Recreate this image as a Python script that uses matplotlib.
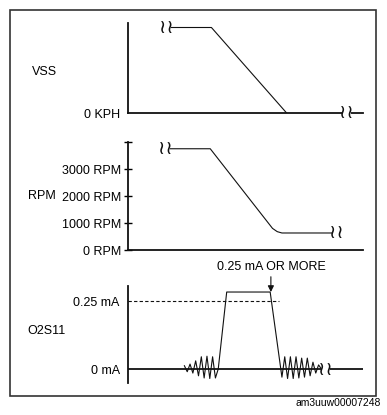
import matplotlib
matplotlib.use("Agg")
import matplotlib.pyplot as plt
from matplotlib.patches import Rectangle

plt.rcParams['font.family'] = ['Liberation Sans', 'DejaVu Sans']
plt.rcParams['font.size'] = 9

W, H = 387, 415

# time axis is arbitrary units 0..100 shared by the three panels
t_vss = [16.5, 35.5, 67.5]
vss = [95, 95, 0]

t_rpm = [16, 35, 61.5, 63.5, 65.5, 87]
rpm = [3750, 3750, 800, 680, 630, 630]
rpm_ticks = [0, 1000, 2000, 3000, 4000]
rpm_labels = ['0 RPM', '1000 RPM', '2000 RPM', '3000 RPM', '']

t_o2 = [24, 25.2, 26.4, 27.6, 28.8, 30, 31.2, 32.4, 33.6, 34.8, 36, 37.2, 38.4,
        42, 60.5, 65.5,
        66.7, 67.9, 69.1, 70.3, 71.5, 72.7, 73.9, 75.1, 76.3, 77.5, 78.7,
        79.9, 81.1, 82.3]
o2 = [0.012, -0.01, 0.018, -0.015, 0.03, -0.025, 0.045, -0.033, 0.047, -0.035,
      0.045, -0.033, 0.0,
      0.283, 0.283, -0.03,
      0.045, -0.035, 0.045, -0.035, 0.045, -0.033, 0.04, -0.03, 0.04, -0.025,
      0.025, -0.015, 0.015, 0.0]
o2_thresh = 0.25
o2_thresh_end = 64.3

ink = '#111111'


def px_axes(fig, x0, y0, x1, y1):
    ax = fig.add_axes([x0 / W, 1 - y1 / H, (x1 - x0) / W, (y1 - y0) / H])
    ax.patch.set_alpha(0)
    for s in ['top', 'right']:
        ax.spines[s].set_visible(False)
    for s in ['left', 'bottom']:
        ax.spines[s].set_linewidth(1.3)
        ax.spines[s].set_color(ink)
    ax.set_xlim(0, 100)
    ax.set_xticks([])
    return ax


def brk(ax, x, y):
    ax.text(x, y, '\u2240\u2240', ha='center', va='center', fontsize=14,
            family='DejaVu Sans', color=ink, clip_on=False,
            bbox=dict(boxstyle='square,pad=-0.15', fc='white', ec='none'))


fig = plt.figure(figsize=(W / 100, H / 100), dpi=100)

# VSS panel
ax1 = px_axes(fig, 128, 23, 363, 113)
ax1.set_ylim(0, 100)
ax1.plot(t_vss, vss, color=ink, lw=0.8)
ax1.set_yticks([0], ['0 KPH'])
ax1.tick_params(axis='y', length=0, pad=6)
brk(ax1, t_vss[0], vss[0])
brk(ax1, 93, 0)

# RPM panel
ax2 = px_axes(fig, 128, 142, 363, 250)
ax2.set_ylim(0, 4000)
ax2.plot(t_rpm, rpm, color=ink, lw=0.8)
ax2.set_yticks(rpm_ticks, rpm_labels)
ax2.tick_params(axis='y', direction='inout', length=6, width=1, pad=2)
brk(ax2, t_rpm[0], rpm[0])
brk(ax2, 88.5, rpm[-1])

# O2S11 panel
ax3 = px_axes(fig, 128, 286, 363, 383)
ax3.set_ylim(-(383 - 369) / 272, (369 - 286) / 272)
ax3.spines['bottom'].set_visible(False)
ax3.axhline(0, color=ink, lw=1.3)
ax3.plot([0, o2_thresh_end], [o2_thresh, o2_thresh], color=ink, lw=0.8,
         dashes=(3, 2))
ax3.plot(t_o2, o2, color=ink, lw=0.8)
ax3.set_yticks([0, o2_thresh], ['0 mA', '0.25 mA'])
ax3.tick_params(axis='y', length=0, pad=6)
brk(ax3, 84, 0)
ax3.annotate('0.25 mA OR MORE', xy=(60.8, 0.283), xytext=(0, 14),
             textcoords='offset points', ha='center', va='bottom',
             annotation_clip=False,
             arrowprops=dict(arrowstyle='-|>,head_length=0.4,head_width=0.2',
                             color=ink, lw=0.8, shrinkA=1, shrinkB=0))

# row labels
fig.text(32 / W, 1 - 72 / H, 'VSS', ha='left', va='center')
fig.text(28 / W, 1 - 196 / H, 'RPM', ha='left', va='center')
fig.text(27 / W, 1 - 331 / H, 'O2S11', ha='left', va='center')

# frame and caption
fig.patches.append(Rectangle((10 / W, 1 - 396 / H), 366 / W, 386 / H,
                             transform=fig.transFigure, fill=False,
                             ec='#333333', lw=1.2))
fig.text(381 / W, 1 - 403 / H, 'am3uuw00007248', ha='right', va='center',
         fontsize=7.5)

fig.savefig('out.png', dpi=100)
